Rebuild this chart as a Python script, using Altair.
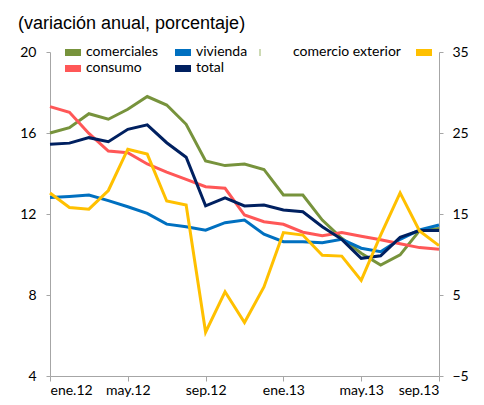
import json
import altair as alt
import pandas as pd

months = ["ene.12", "feb.12", "mar.12", "abr.12", "may.12", "jun.12", "jul.12",
          "ago.12", "sep.12", "oct.12", "nov.12", "dic.12", "ene.13", "feb.13",
          "mar.13", "abr.13", "may.13", "jun.13", "jul.13", "ago.13", "sep.13"]

comerciales = [16.0, 16.26, 16.95, 16.68, 17.17, 17.8, 17.38, 16.43, 14.62, 14.39, 14.47,
               14.2, 12.94, 12.94, 11.7, 10.8, 10.06, 9.48, 9.98, 11.18, 11.29]
vivienda = [12.82, 12.87, 12.94, 12.66, 12.36, 12.03, 11.5, 11.37, 11.2, 11.57, 11.7,
            11.0, 10.63, 10.63, 10.58, 10.75, 10.31, 10.14, 10.75, 11.22, 11.46]
consumo = [17.3, 17.02, 15.98, 15.11, 15.03, 14.47, 14.07, 13.71, 13.35, 13.27, 11.95,
           11.62, 11.49, 11.1, 10.93, 11.08, 10.9, 10.73, 10.53, 10.34, 10.26]
total = [15.44, 15.5, 15.77, 15.57, 16.18, 16.4, 15.52, 14.8, 12.4, 12.8, 12.4,
         12.44, 12.2, 12.11, 11.37, 10.75, 9.81, 9.94, 10.85, 11.18, 11.18]
comercio_exterior = [17.6, 15.8, 15.6, 17.9, 23.0, 22.4, 16.6, 16.1, 0.4, 5.4, 1.6,
                     6.0, 12.7, 12.4, 9.9, 9.8, 6.8, 12.4, 17.6, 12.9, 11.1]

series_left = [("comerciales", comerciales, "#77933C"),
               ("vivienda", vivienda, "#0070C0"),
               ("consumo", consumo, "#FF5757"),
               ("total", total, "#002060")]
yellow = "#FFC000"

rows = []
for name, vals, _ in series_left:
    for i, v in enumerate(vals):
        rows.append({"i": i, "serie": name, "v": v})
df = pd.DataFrame(rows)
df_ext = pd.DataFrame({"i": list(range(len(months))), "v": comercio_exterior})

FONT = "Lato"
AX = "#A6A6A6"

x_enc = alt.X("i:Q",
              scale=alt.Scale(domain=[0, 20], nice=False, zero=False),
              axis=alt.Axis(values=[0, 4, 8, 12, 16, 20],
                            labelExpr=json.dumps(months) + "[datum.value]",
                            title=None, grid=False, domainColor=AX, tickColor=AX,
                            tickSize=5, labelFont=FONT, labelFontSize=14,
                            labelPadding=2, labelColor="#000000"))

y_left_axis = alt.Axis(values=[4, 8, 12, 16, 20], orient="left", title=None, grid=False,
                       domainColor=AX, tickColor=AX, tickSize=4, labelPadding=10,
                       labelFont=FONT, labelFontSize=14, labelColor="#000000")
y_left = alt.Y("v:Q", scale=alt.Scale(domain=[4, 20], nice=False, zero=False),
               axis=y_left_axis)

left_layers = []
for name, _, col in series_left:
    left_layers.append(
        alt.Chart(df).transform_filter(alt.datum.serie == name)
        .mark_line(color=col, strokeWidth=3)
        .encode(x=x_enc, y=y_left)
    )
left = alt.layer(*left_layers)

right = alt.Chart(df_ext).mark_line(color=yellow, strokeWidth=3).encode(
    x=x_enc,
    y=alt.Y("v:Q", scale=alt.Scale(domain=[-5, 35], nice=False, zero=False),
            axis=alt.Axis(values=[-5, 5, 15, 25, 35], orient="right", title=None,
                          grid=False, domainColor=AX, tickColor=AX, tickSize=4,
                          labelPadding=9, labelFont=FONT, labelFontSize=14,
                          labelColor="#000000")))

one = pd.DataFrame({"a": [0]})

def swatch(x0, y0, col):
    return alt.Chart(one).mark_rect(color=col).encode(
        x=alt.value(x0), x2=alt.value(x0 + 16), y=alt.value(y0), y2=alt.value(y0 + 7))

def label(x0, yc, txt, align="left"):
    return alt.Chart(one).mark_text(text=txt, align=align, baseline="middle",
                                    font=FONT, fontSize=14, color="#000000").encode(
        x=alt.value(x0), y=alt.value(yc))

legend = [
    swatch(15, -3, "#77933C"), label(36, 0, "comerciales"),
    swatch(125, -3, "#0070C0"), label(146, 0, "vivienda"),
    swatch(15, 13, "#FF5757"), label(36, 16, "consumo"),
    swatch(125, 13, "#002060"), label(146, 16, "total"),
    label(243, 0, "comercio exterior"), swatch(366, -3, yellow),
    alt.Chart(one).mark_rule(color="#9BB56A", strokeWidth=1).encode(
        x=alt.value(210), y=alt.value(-3), y2=alt.value(4)),
]

title = alt.Chart(one).mark_text(text="(variación anual, porcentaje)", align="left",
                                 baseline="middle", font="Liberation Sans", fontSize=18,
                                 color="#000000").encode(x=alt.value(-32), y=alt.value(-28))

chart = alt.layer(left, right, *legend, title).resolve_scale(y="independent").properties(
    width=389, height=324, autosize="none",
    padding={"left": 42, "top": 44, "right": 37, "bottom": 21},
).configure_view(strokeWidth=0)

chart.save("out.html", embed_options={"renderer": "svg", "actions": False})
